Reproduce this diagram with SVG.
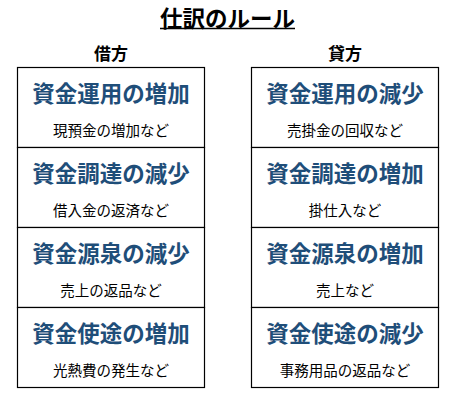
<svg xmlns="http://www.w3.org/2000/svg" width="454" height="408" viewBox="0 0 454 408">
<style>
text{font-family:"Noto Sans CJK JP","Noto Sans CJK SC",sans-serif;text-anchor:middle;dominant-baseline:central}
.t{font-size:22.5px;font-weight:bold;fill:#000}
.c{font-size:17px;font-weight:bold;fill:#000}
.h{font-size:22.5px;font-weight:bold;fill:#1F4E79}
.s{font-size:14.5px;fill:#000}
.b{fill:#fff;stroke:#000;stroke-width:1.2}
</style>
<rect width="454" height="408" fill="#fff"/>
<g id="title">
<text class="t" x="227.5" y="17">仕訳のルール</text>
<line x1="160" y1="28.5" x2="295" y2="28.5" stroke="#000" stroke-width="1.3"/>
</g>
<g id="debit-label"><text class="c" x="111" y="52.5">借方</text></g>
<g id="credit-label"><text class="c" x="345" y="52.5">貸方</text></g>
<g id="d1"><rect class="b" x="17.5" y="67.5" width="187" height="80"/>
<text class="h" x="111" y="91.5">資金運用の増加</text><text class="s" x="111" y="129">現預金の増加など</text></g>
<g id="d2"><rect class="b" x="17.5" y="147.5" width="187" height="80"/>
<text class="h" x="111" y="171.5">資金調達の減少</text><text class="s" x="111" y="209">借入金の返済など</text></g>
<g id="d3"><rect class="b" x="17.5" y="227.5" width="187" height="80"/>
<text class="h" x="111" y="251.5">資金源泉の減少</text><text class="s" x="111" y="289">売上の返品など</text></g>
<g id="d4"><rect class="b" x="17.5" y="307.5" width="187" height="80"/>
<text class="h" x="111" y="331.5">資金使途の増加</text><text class="s" x="111" y="369">光熱費の発生など</text></g>
<g id="c1"><rect class="b" x="251.5" y="67.5" width="187" height="80"/>
<text class="h" x="345" y="91.5">資金運用の減少</text><text class="s" x="345" y="129">売掛金の回収など</text></g>
<g id="c2"><rect class="b" x="251.5" y="147.5" width="187" height="80"/>
<text class="h" x="345" y="171.5">資金調達の増加</text><text class="s" x="345" y="209">掛仕入など</text></g>
<g id="c3"><rect class="b" x="251.5" y="227.5" width="187" height="80"/>
<text class="h" x="345" y="251.5">資金源泉の増加</text><text class="s" x="345" y="289">売上など</text></g>
<g id="c4"><rect class="b" x="251.5" y="307.5" width="187" height="80"/>
<text class="h" x="345" y="331.5">資金使途の減少</text><text class="s" x="345" y="369">事務用品の返品など</text></g>
<g id="connectors"></g>
</svg>
